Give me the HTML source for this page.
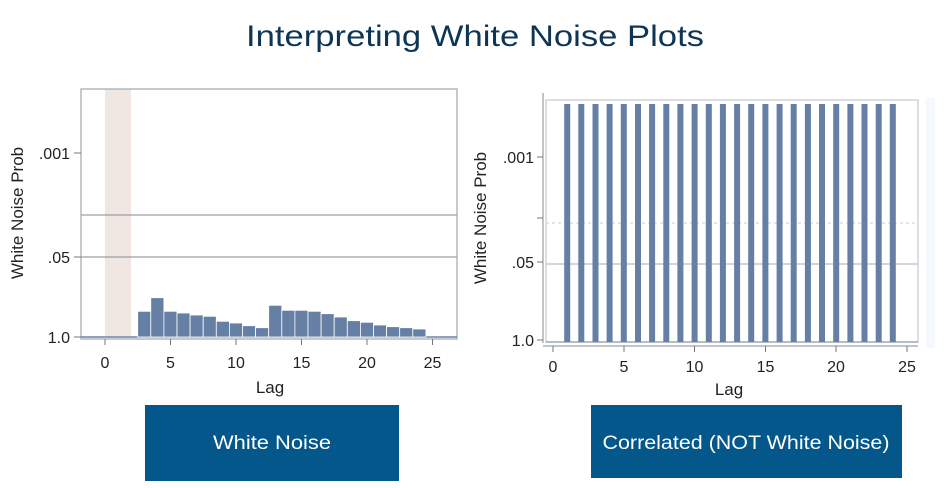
<!DOCTYPE html>
<html><head><meta charset="utf-8"><style>
html,body{margin:0;padding:0;background:#fff;}
svg{display:block;font-family:"Liberation Sans",sans-serif;}
</style></head><body>
<svg width="952" height="488" viewBox="0 0 952 488" xmlns="http://www.w3.org/2000/svg">
<text x="475" y="46" text-anchor="middle" font-size="30" fill="#0e3553" textLength="458" lengthAdjust="spacingAndGlyphs">Interpreting White Noise Plots</text>

<!-- LEFT CHART -->
<rect x="105" y="89" width="26" height="248" fill="#f0e6e2"/>
<rect x="81" y="89" width="376" height="250" fill="none" stroke="#a8adb3" stroke-width="1.3"/>
<line x1="81" y1="215" x2="457" y2="215" stroke="#9aa0a6" stroke-width="1.3"/>
<line x1="81" y1="257" x2="457" y2="257" stroke="#9aa0a6" stroke-width="1.3"/>
<line x1="81" y1="337" x2="457" y2="337" stroke="#6f84a8" stroke-width="1.5"/>
<g fill="#667fa4" stroke="#fff" stroke-width="0.8">
<rect x="137.7" y="311.3" width="13.1" height="25.7"/>
<rect x="150.8" y="297.7" width="13.1" height="39.3"/>
<rect x="163.9" y="311.3" width="13.1" height="25.7"/>
<rect x="177" y="313" width="13.1" height="24"/>
<rect x="190.1" y="315" width="13.1" height="22"/>
<rect x="203.2" y="316.3" width="13.1" height="20.7"/>
<rect x="216.3" y="321.3" width="13.1" height="15.7"/>
<rect x="229.4" y="323" width="13.1" height="14"/>
<rect x="242.5" y="325.7" width="13.1" height="11.3"/>
<rect x="255.6" y="327.7" width="13.1" height="9.3"/>
<rect x="268.7" y="305.3" width="13.1" height="31.7"/>
<rect x="281.8" y="310.3" width="13.1" height="26.7"/>
<rect x="294.9" y="310.3" width="13.1" height="26.7"/>
<rect x="308" y="311.3" width="13.1" height="25.7"/>
<rect x="321.1" y="313.7" width="13.1" height="23.3"/>
<rect x="334.2" y="317" width="13.1" height="20"/>
<rect x="347.3" y="320.7" width="13.1" height="16.3"/>
<rect x="360.4" y="322.3" width="13.1" height="14.7"/>
<rect x="373.5" y="325" width="13.1" height="12"/>
<rect x="386.6" y="326.7" width="13.1" height="10.3"/>
<rect x="399.7" y="327.7" width="13.1" height="9.3"/>
<rect x="412.8" y="329" width="13.1" height="8"/>
</g>
<g stroke="#777" stroke-width="1">
<line x1="74" y1="153" x2="81" y2="153"/><line x1="74" y1="257" x2="81" y2="257"/><line x1="74" y1="337" x2="81" y2="337"/>
<line x1="105" y1="339" x2="105" y2="345"/><line x1="170.5" y1="339" x2="170.5" y2="345"/><line x1="236" y1="339" x2="236" y2="345"/><line x1="301.5" y1="339" x2="301.5" y2="345"/><line x1="367" y1="339" x2="367" y2="345"/><line x1="432.5" y1="339" x2="432.5" y2="345"/>
</g>
<g font-size="16" fill="#222" text-anchor="end">
<text x="70" y="159">.001</text><text x="70" y="263">.05</text><text x="70" y="343">1.0</text>
</g>
<g font-size="16" fill="#222" text-anchor="middle">
<text x="105" y="368">0</text><text x="170.5" y="368">5</text><text x="236" y="368">10</text><text x="301.5" y="368">15</text><text x="367" y="368">20</text><text x="432.5" y="368">25</text>
<text x="270" y="393" font-size="17">Lag</text>
<text transform="translate(23,213) rotate(-90)" font-size="17">White Noise Prob</text>
</g>

<!-- RIGHT CHART -->
<rect x="926" y="98" width="9" height="250" fill="#f5f8fd"/>
<rect x="546" y="100" width="372" height="242" fill="none" stroke="#c8ccd2" stroke-width="1.3"/>
<line x1="546" y1="223" x2="918" y2="223" stroke="#c8ccd2" stroke-width="1" stroke-dasharray="3,3"/>
<line x1="546" y1="264" x2="918" y2="264" stroke="#b8bcc2" stroke-width="1.2"/>
<line x1="546" y1="342" x2="918" y2="342" stroke="#8aa0c0" stroke-width="1.3"/>
<line x1="543" y1="93" x2="543" y2="343" stroke="#888" stroke-width="1"/>
<line x1="543" y1="346" x2="918" y2="346" stroke="#888" stroke-width="1"/>
<g fill="#667fa4">
<rect x="564.2" y="104" width="6" height="238"/><rect x="578.3" y="104" width="6" height="238"/><rect x="592.5" y="104" width="6" height="238"/><rect x="606.6" y="104" width="6" height="238"/><rect x="620.8" y="104" width="6" height="238"/><rect x="635" y="104" width="6" height="238"/><rect x="649.1" y="104" width="6" height="238"/><rect x="663.3" y="104" width="6" height="238"/><rect x="677.4" y="104" width="6" height="238"/><rect x="691.6" y="104" width="6" height="238"/><rect x="705.8" y="104" width="6" height="238"/><rect x="719.9" y="104" width="6" height="238"/><rect x="734.1" y="104" width="6" height="238"/><rect x="748.2" y="104" width="6" height="238"/><rect x="762.4" y="104" width="6" height="238"/><rect x="776.6" y="104" width="6" height="238"/><rect x="790.7" y="104" width="6" height="238"/><rect x="804.9" y="104" width="6" height="238"/><rect x="819" y="104" width="6" height="238"/><rect x="833.2" y="104" width="6" height="238"/><rect x="847.4" y="104" width="6" height="238"/><rect x="861.5" y="104" width="6" height="238"/><rect x="875.7" y="104" width="6" height="238"/><rect x="889.8" y="104" width="6" height="238"/>
</g>
<g stroke="#777" stroke-width="1">
<line x1="537" y1="157" x2="543" y2="157"/><line x1="537" y1="218" x2="543" y2="218"/><line x1="537" y1="262" x2="543" y2="262"/><line x1="537" y1="340" x2="543" y2="340"/>
<line x1="553" y1="346" x2="553" y2="352"/><line x1="624" y1="346" x2="624" y2="352"/><line x1="694.5" y1="346" x2="694.5" y2="352"/><line x1="765.5" y1="346" x2="765.5" y2="352"/><line x1="836" y1="346" x2="836" y2="352"/><line x1="907" y1="346" x2="907" y2="352"/>
</g>
<g font-size="16" fill="#222" text-anchor="end">
<text x="534" y="163">.001</text><text x="534" y="268">.05</text><text x="534" y="346">1.0</text>
</g>
<g font-size="16" fill="#222" text-anchor="middle">
<text x="553" y="372">0</text><text x="624" y="372">5</text><text x="694.5" y="372">10</text><text x="765.5" y="372">15</text><text x="836" y="372">20</text><text x="907" y="372">25</text>
<text x="729" y="395" font-size="17">Lag</text>
<text transform="translate(486,218) rotate(-90)" font-size="17">White Noise Prob</text>
</g>

<!-- BUTTONS -->
<rect x="145" y="405" width="254" height="76" fill="#03578b"/>
<text x="272" y="449" text-anchor="middle" font-size="19" fill="#fff" textLength="118" lengthAdjust="spacingAndGlyphs">White Noise</text>
<rect x="591" y="405" width="311" height="73" fill="#03578b"/>
<text x="746" y="449" text-anchor="middle" font-size="19" fill="#fff" textLength="287" lengthAdjust="spacingAndGlyphs">Correlated (NOT White Noise)</text>
</svg>
</body></html>
